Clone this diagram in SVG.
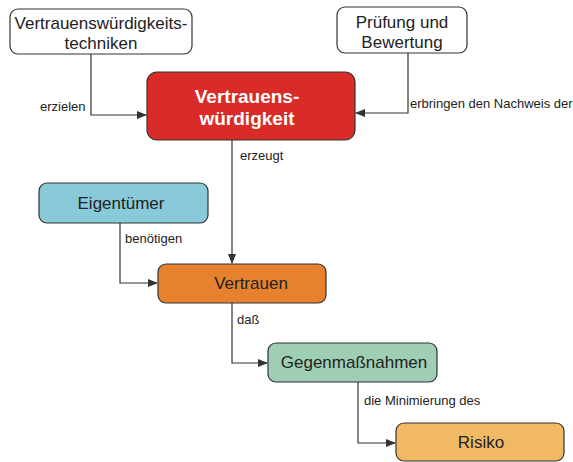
<svg xmlns="http://www.w3.org/2000/svg" width="573" height="462" viewBox="0 0 573 462">
<defs>
<marker id="arr" markerWidth="10" markerHeight="8" refX="9" refY="4" orient="auto" markerUnits="userSpaceOnUse">
<path d="M0,0 L10,4 L0,8 Z" fill="#333"/>
</marker>
<style>
.n{stroke:#333;stroke-width:1.2}
.t{font-family:"Liberation Sans",Arial,sans-serif;font-size:17px;fill:#222;text-anchor:middle}
.tb{font-family:"Liberation Sans",Arial,sans-serif;font-size:19px;font-weight:bold;fill:#fff;text-anchor:middle}
.l{font-family:"Liberation Sans",Arial,sans-serif;font-size:13px;fill:#222}
.c{fill:none;stroke:#333;stroke-width:1.2}
</style>
</defs>
<rect width="573" height="462" fill="#fff"/>
<g id="connectors">
<path class="c" d="M91,54 V115 H146" marker-end="url(#arr)"/>
<text class="l" x="40" y="111">erzielen</text>
<path class="c" d="M408,53 V113 H356" marker-end="url(#arr)"/>
<text class="l" x="410" y="108">erbringen den Nachweis der</text>
<path class="c" d="M232,140 V263" marker-end="url(#arr)"/>
<text class="l" x="240" y="160">erzeugt</text>
<path class="c" d="M120,223 V283 H157" marker-end="url(#arr)"/>
<text class="l" x="125" y="243">benötigen</text>
<path class="c" d="M232,303 V363 H267" marker-end="url(#arr)"/>
<text class="l" x="237" y="324">daß</text>
<path class="c" d="M358,382 V443 H395" marker-end="url(#arr)"/>
<text class="l" x="364" y="405">die Minimierung des</text>
</g>
<g id="techniken">
<rect class="n" x="10" y="9" width="182" height="45" rx="8" fill="#fff"/>
<text class="t" x="101" y="29">Vertrauenswürdigkeits-</text>
<text class="t" x="101" y="49">techniken</text>
</g>
<g id="pruefung">
<rect class="n" x="337" y="7" width="130" height="46" rx="8" fill="#fff"/>
<text class="t" x="402" y="28">Prüfung und</text>
<text class="t" x="402" y="48">Bewertung</text>
</g>
<g id="vertrauenswuerdigkeit">
<rect class="n" x="147" y="72" width="208" height="68" rx="10" fill="#D92B27"/>
<text class="tb" x="247" y="103">Vertrauens-</text>
<text class="tb" x="247" y="125">würdigkeit</text>
</g>
<g id="eigentuemer">
<rect class="n" x="39" y="183" width="169" height="40" rx="8" fill="#88CAD9"/>
<text class="t" x="121" y="209">Eigentümer</text>
</g>
<g id="vertrauen">
<rect class="n" x="158" y="264" width="168" height="39" rx="8" fill="#E8812D"/>
<text class="t" x="251" y="289">Vertrauen</text>
</g>
<g id="gegenmassnahmen">
<rect class="n" x="268" y="343" width="169" height="39" rx="8" fill="#9ECFB4"/>
<text class="t" x="354" y="368">Gegenmaßnahmen</text>
</g>
<g id="risiko">
<rect class="n" x="396" y="423" width="168" height="38" rx="8" fill="#F2B965"/>
<text class="t" x="481" y="448">Risiko</text>
</g>
</svg>
